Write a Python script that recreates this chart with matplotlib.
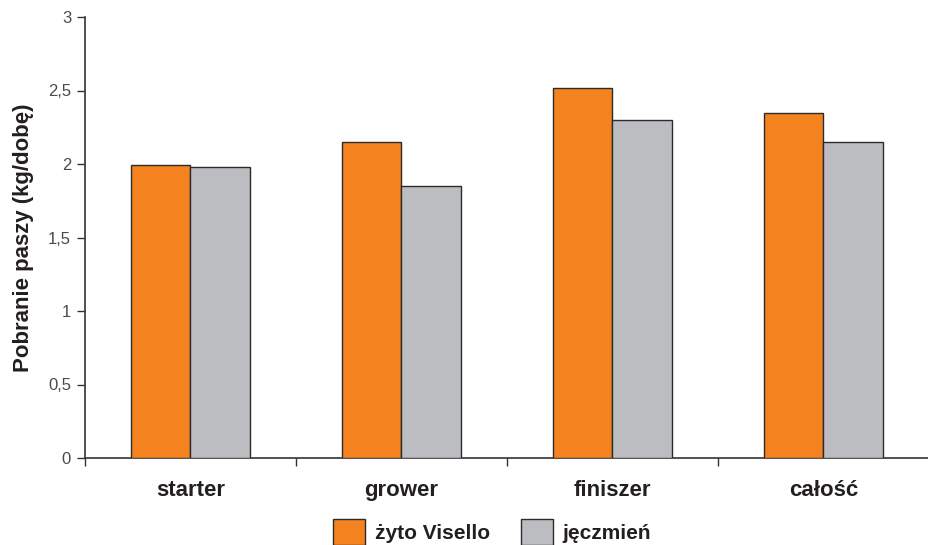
import matplotlib
matplotlib.use("Agg")
import matplotlib.pyplot as plt
import numpy as np
from matplotlib.patches import Patch

categories = ["starter", "grower", "finiszer", "całość"]
zyto = [1.99, 2.15, 2.52, 2.35]
jeczmien = [1.98, 1.85, 2.30, 2.15]
series_names = ["żyto Visello", "jęczmień"]
yticks = [0, 0.5, 1, 1.5, 2, 2.5, 3]
ytick_labels = ["0", "0,5", "1", "1,5", "2", "2,5", "3"]

plt.rcParams['font.family'] = ['Liberation Sans', 'DejaVu Sans']

W, H = 929, 545
fig = plt.figure(figsize=(W/100, H/100), dpi=100)
ax = fig.add_axes([85/W, (H-458)/H, (W-85)/W, (458-17)/H])

orange = "#F4821F"
grey = "#BCBDC0"
edge = "#2b2b2b"
x = np.arange(len(categories))
bw = 0.283
ax.bar(x - bw/2, zyto, bw, color=orange, edgecolor=edge, linewidth=1.0, zorder=3)
ax.bar(x + bw/2, jeczmien, bw, color=grey, edgecolor=edge, linewidth=1.0, zorder=3)

ax.set_xlim(-0.5, 3.5 - 5/212.5)
ax.set_ylim(0, 3)
ax.set_yticks(yticks)
ax.set_yticklabels(ytick_labels, fontsize=12)
ax.tick_params(axis='y', direction='out', length=6, width=1, colors="#333333", labelcolor="#4a4a4a", pad=4)

ax.set_xticks(x)
ax.set_xticklabels(categories, fontsize=16, fontweight='bold', color="#231f20")
ax.tick_params(axis='x', length=0, pad=16)
ax.set_xticks(np.arange(-0.5, 3.6, 1.0), minor=True)
ax.tick_params(axis='x', which='minor', direction='out', length=6, width=1, colors="#333333")

for s in ['top', 'right']:
    ax.spines[s].set_visible(False)
for s in ['left', 'bottom']:
    ax.spines[s].set_color("#333333")
    ax.spines[s].set_linewidth(1.2)

ax.set_ylabel("Pobranie paszy (kg/dobę)", fontsize=16, fontweight='bold', color="#231f20", labelpad=10)

handles = [Patch(facecolor=orange, edgecolor=edge, linewidth=1.0),
           Patch(facecolor=grey, edgecolor=edge, linewidth=1.0)]
leg = fig.legend(handles, series_names, loc='center', bbox_to_anchor=(492/W, (H-532)/H),
                 ncol=2, frameon=False, fontsize=15, handlelength=1.55, handleheight=1.5,
                 columnspacing=1.5, handletextpad=0.45)
for t in leg.get_texts():
    t.set_fontweight('bold')
    t.set_color("#231f20")

fig.savefig("out.png", dpi=100)
